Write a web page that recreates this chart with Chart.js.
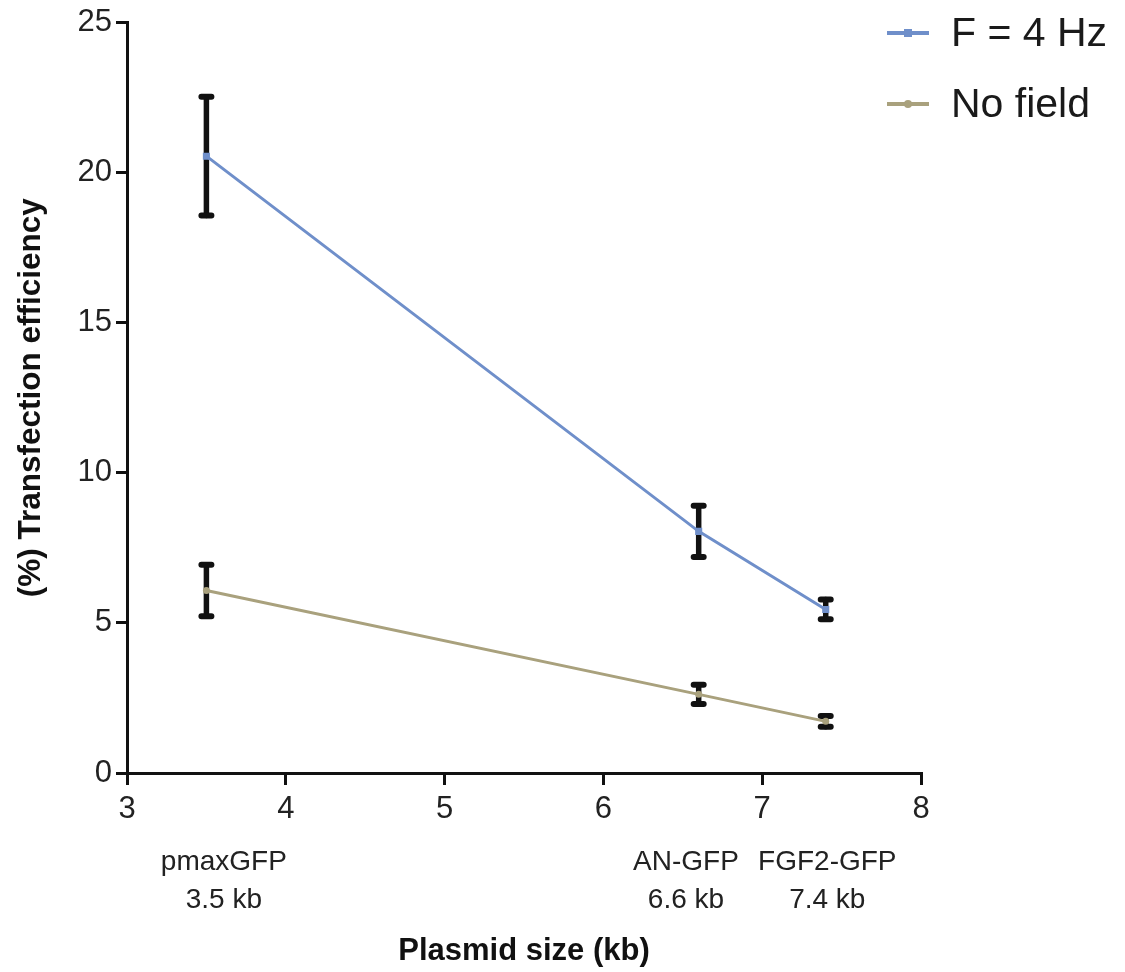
<!DOCTYPE html>
<html>
<head>
<meta charset="utf-8">
<script src="https://cdn.jsdelivr.net/npm/chart.js@4.4.1/dist/chart.umd.min.js"></script>
<style>
  html, body { margin: 0; padding: 0; background: #ffffff; }
  #wrap { width: 1125px; height: 972px; }
</style>
</head>
<body>
<div id="wrap"><canvas id="c" width="1125" height="972"></canvas></div>
<script>
// ---- data ----
const plasmidSize = [3.5, 6.6, 7.4];
const categoryNames = ["pmaxGFP", "AN-GFP", "FGF2-GFP"];
const categorySizes = ["3.5 kb", "6.6 kb", "7.4 kb"];
const categoryLabelAnchor = [3.61, 6.52, 7.41];
const field4Hz = [20.55, 8.05, 5.45];
const field4HzErr = [1.98, 0.85, 0.33];
const noField = [6.08, 2.62, 1.72];
const noFieldErr = [0.86, 0.32, 0.18];
const seriesNames = ["F = 4 Hz", "No field"];
const xTicks = [3, 4, 5, 6, 7, 8];
const yTicks = [0, 5, 10, 15, 20, 25];

const BLUE = '#6f8fca';
const TAN = '#a9a17d';
const FONT = '"Liberation Sans", Arial, sans-serif';

function toPoints(xs, ys) { return xs.map((x, i) => ({ x: x, y: ys[i] })); }

const errorBars = {
  id: 'errorBars',
  beforeDatasetsDraw(chart) {
    const { ctx, scales: { x, y } } = chart;
    const sets = [[field4Hz, field4HzErr], [noField, noFieldErr]];
    ctx.save();
    ctx.strokeStyle = '#111111';
    ctx.lineCap = 'round';
    sets.forEach(([vals, errs]) => {
      vals.forEach((v, i) => {
        const px = x.getPixelForValue(plasmidSize[i]);
        const top = y.getPixelForValue(v + errs[i]);
        const bot = y.getPixelForValue(v - errs[i]);
        ctx.lineWidth = 5.5;
        ctx.beginPath();
        ctx.moveTo(px, top); ctx.lineTo(px, bot);
        ctx.stroke();
        ctx.lineWidth = 6;
        ctx.beginPath();
        ctx.moveTo(px - 5, top); ctx.lineTo(px + 5, top);
        ctx.moveTo(px - 5, bot); ctx.lineTo(px + 5, bot);
        ctx.stroke();
      });
    });
    ctx.restore();
  }
};

const extras = {
  id: 'extras',
  afterDraw(chart) {
    const { ctx, scales: { x } } = chart;
    ctx.save();
    // category labels
    ctx.fillStyle = '#222222';
    ctx.font = '28px ' + FONT;
    ctx.textAlign = 'center';
    ctx.textBaseline = 'middle';
    categoryNames.forEach((n, i) => {
      const px = x.getPixelForValue(categoryLabelAnchor[i]);
      ctx.fillText(n, px, 862);
      ctx.fillText(categorySizes[i], px, 900);
    });
    // legend
    const colors = [BLUE, TAN];
    const rows = [33, 104];
    seriesNames.forEach((n, i) => {
      ctx.strokeStyle = colors[i];
      ctx.lineWidth = 4;
      ctx.beginPath();
      ctx.moveTo(887, rows[i]); ctx.lineTo(929, rows[i]);
      ctx.stroke();
      ctx.fillStyle = colors[i];
      if (i === 0) {
        ctx.fillRect(904, rows[i] - 4, 8, 8);
      } else {
        ctx.beginPath(); ctx.arc(908, rows[i], 4, 0, Math.PI * 2); ctx.fill();
      }
      ctx.fillStyle = '#1a1a1a';
      ctx.font = '41px ' + FONT;
      ctx.textAlign = 'left';
      ctx.fillText(n, 951, rows[i] + 2);
    });
    ctx.restore();
  }
};

new Chart(document.getElementById('c'), {
  type: 'line',
  data: {
    datasets: [
      {
        label: seriesNames[0],
        data: toPoints(plasmidSize, field4Hz),
        borderColor: BLUE, backgroundColor: BLUE,
        borderWidth: 3, pointStyle: 'rect', pointRadius: 5, pointBorderWidth: 0,
        tension: 0
      },
      {
        label: seriesNames[1],
        data: toPoints(plasmidSize, noField),
        borderColor: TAN, backgroundColor: TAN,
        borderWidth: 3, pointStyle: 'circle', pointRadius: 3.5, pointBorderWidth: 0,
        tension: 0
      }
    ]
  },
  options: {
    responsive: false,
    animation: false,
    layout: { padding: { top: 20, right: 204, left: 0, bottom: 0 } },
    plugins: { legend: { display: false }, tooltip: { enabled: false } },
    scales: {
      x: {
        type: 'linear', min: 3, max: 8,
        afterFit(s) { s.height = 199; },
        afterBuildTicks(s) { s.ticks = xTicks.map(v => ({ value: v })); },
        grid: { display: true, drawOnChartArea: false, drawTicks: true, tickLength: 12, color: '#111111', lineWidth: 3 },
        border: { display: true, color: '#111111', width: 3 },
        ticks: { color: '#222222', font: { family: FONT, size: 31 }, padding: 6, maxRotation: 0 },
        title: { display: true, text: 'Plasmid size (kb)', color: '#111111', font: { family: FONT, size: 31, weight: 'bold' }, padding: { top: 0, bottom: 2 } }
      },
      y: {
        type: 'linear', min: 0, max: 25,
        afterFit(s) { s.width = 127; },
        afterBuildTicks(s) { s.ticks = yTicks.map(v => ({ value: v })); },
        grid: { display: true, drawOnChartArea: false, drawTicks: true, tickLength: 11, color: '#111111', lineWidth: 3 },
        border: { display: true, color: '#111111', width: 3 },
        ticks: { color: '#222222', font: { family: FONT, size: 31 }, padding: 4 },
        title: { display: true, text: '(%) Transfection efficiency', color: '#111111', font: { family: FONT, size: 31.5, weight: 'bold' }, padding: { top: 12, bottom: 0 } }
      }
    }
  },
  plugins: [errorBars, extras]
});
</script>
</body>
</html>
